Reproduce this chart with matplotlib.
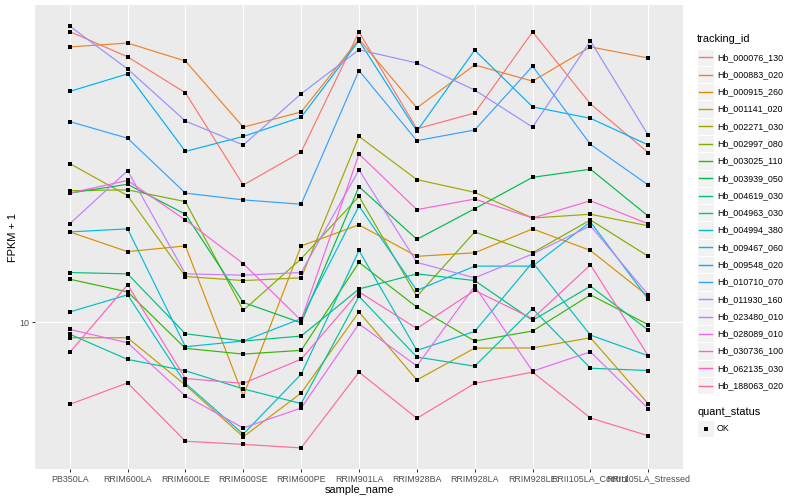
"""
FPKM 表达量折线图 (ggplot 风格复刻)
"""

import matplotlib
matplotlib.use("Agg")
import matplotlib.pyplot as plt
from matplotlib.lines import Line2D
from matplotlib.patches import Rectangle
import numpy as np

plt.rcParams['font.family'] = ['Liberation Sans', 'DejaVu Sans']

# 样本名
samples = ['PB350LA', 'RRIM600LA', 'RRIM600LE', 'RRIM600SE', 'RRIM600PE',
           'RRIM901LA', 'RRIM928BA', 'RRIM928LA', 'RRIM928LE',
           'RRII105LA_Control', 'RRII105LA_Stressed']

# 各基因的 FPKM + 1
hb_000076_130 = [53.2, 46.0, 37.4, 22.0, 26.6, 53.1, 30.4, 33.3, 53.1, 35.1, 26.5]
hb_000883_020 = [48.7, 49.8, 44.9, 30.7, 33.5, 50.9, 34.3, 43.9, 40.0, 48.7, 45.7]
hb_000915_260 = [16.8, 15.0, 15.5, 6.54, 15.5, 17.5, 14.6, 14.9, 17.1, 15.1, 11.6]
hb_001141_020 = [9.14, 9.14, 6.96, 5.17, 6.65, 10.6, 7.17, 8.61, 8.62, 9.14, 6.25]
hb_002271_030 = [24.9, 20.7, 13.0, 12.7, 12.9, 29.1, 22.7, 21.1, 18.2, 18.6, 17.4]
hb_002997_080 = [21.3, 21.4, 20.0, 10.7, 14.4, 20.6, 11.6, 16.8, 14.9, 18.0, 14.6]
hb_003025_110 = [12.8, 11.9, 8.60, 8.32, 8.50, 14.1, 10.9, 8.97, 9.50, 11.7, 9.85]
hb_003939_050 = [21.0, 22.1, 18.6, 11.2, 9.96, 21.8, 16.1, 19.2, 23.0, 24.1, 18.4]
hb_004619_030 = [13.3, 13.2, 9.35, 8.97, 9.23, 12.1, 13.2, 12.7, 10.1, 12.3, 9.55]
hb_004963_030 = [9.33, 8.07, 7.56, 6.81, 6.26, 11.6, 8.18, 7.76, 10.8, 7.67, 7.57]
hb_004994_380 = [10.6, 11.7, 7.03, 5.25, 7.41, 15.1, 8.50, 9.48, 14.1, 9.28, 8.24]
hb_009467_060 = [16.8, 17.1, 8.68, 8.97, 10.2, 19.5, 12.0, 13.8, 13.8, 17.8, 11.4]
hb_009548_020 = [37.7, 41.7, 26.7, 29.1, 32.5, 50.5, 30.0, 47.8, 34.5, 32.3, 27.7]
hb_010710_070 = [31.7, 28.8, 21.0, 20.2, 19.7, 42.5, 28.4, 30.2, 43.6, 27.8, 22.0]
hb_011930_160 = [54.9, 42.9, 31.8, 27.7, 37.2, 47.9, 44.4, 38.0, 30.7, 50.4, 29.3]
hb_023480_010 = [17.6, 23.9, 13.2, 13.1, 13.3, 24.0, 14.1, 12.9, 14.8, 17.4, 11.7]
hb_028089_010 = [9.59, 8.88, 6.54, 5.44, 6.10, 9.90, 7.77, 12.3, 7.54, 8.43, 6.08]
hb_030736_100 = [21.0, 22.6, 18.0, 14.0, 10.1, 26.3, 19.1, 20.3, 18.2, 20.1, 17.6]
hb_062135_030 = [8.40, 12.4, 7.23, 7.03, 8.08, 11.9, 9.64, 12.0, 10.2, 13.9, 8.24]
hb_188063_020 = [6.23, 7.05, 5.04, 4.95, 4.85, 7.50, 5.75, 7.03, 7.50, 5.76, 5.20]

tracking_ids = ['Hb_000076_130', 'Hb_000883_020', 'Hb_000915_260', 'Hb_001141_020',
                'Hb_002271_030', 'Hb_002997_080', 'Hb_003025_110', 'Hb_003939_050',
                'Hb_004619_030', 'Hb_004963_030', 'Hb_004994_380', 'Hb_009467_060',
                'Hb_009548_020', 'Hb_010710_070', 'Hb_011930_160', 'Hb_023480_010',
                'Hb_028089_010', 'Hb_030736_100', 'Hb_062135_030', 'Hb_188063_020']
series = [hb_000076_130, hb_000883_020, hb_000915_260, hb_001141_020,
          hb_002271_030, hb_002997_080, hb_003025_110, hb_003939_050,
          hb_004619_030, hb_004963_030, hb_004994_380, hb_009467_060,
          hb_009548_020, hb_010710_070, hb_011930_160, hb_023480_010,
          hb_028089_010, hb_030736_100, hb_062135_030, hb_188063_020]

# ggplot2 默认色相调色板 (20 色)
colors = ['#F8766D', '#EA8331', '#D89000', '#C09B00', '#A3A500', '#7CAE00',
          '#39B600', '#00BB4E', '#00BF7D', '#00C1A3', '#00BFC4', '#00BAE0',
          '#00B0F6', '#35A2FF', '#9590FF', '#C77CFF', '#E76BF3', '#FA62DB',
          '#FF62BC', '#FF6C91']

W, H = 800, 500
fig = plt.figure(figsize=(8, 5), dpi=100)
ax = fig.add_axes([35 / W, 31 / H, 648 / W, 464 / H])
ax.set_facecolor('#EBEBEB')
for s in ax.spines.values():
    s.set_visible(False)

x = np.arange(len(samples))
for vals, col in zip(series, colors):
    ax.plot(x, vals, color=col, lw=0.85, zorder=2)
for vals in series:
    ax.plot(x, vals, ls='none', marker='s', ms=2.9, mew=0, color='black', zorder=3)

ax.set_yscale('log')
lo = np.log10(min(min(v) for v in series))
hi = np.log10(max(max(v) for v in series))
pad = (hi - lo) * 0.05
ax.set_ylim(10 ** (lo - pad), 10 ** (hi + pad))
ax.set_xlim(-0.6, len(samples) - 0.4)

ax.set_yticks([10])
ax.set_yticklabels(['10'])
ax.yaxis.set_minor_locator(matplotlib.ticker.NullLocator())
ax.set_xticks(x)
ax.set_xticklabels(samples)
ax.tick_params(axis='both', length=2.0, width=0.75, color='#333333',
               labelcolor='#4D4D4D', labelsize=6.4, pad=2)
ax.grid(True, color='white', lw=0.8)
ax.set_axisbelow(True)

fig.text(13 / W, 1 - 237 / H, 'FPKM + 1', rotation=90, ha='center', va='center',
         fontsize=7.9)
fig.text(359 / W, 1 - 490 / H, 'sample_name', ha='center', va='center', fontsize=7.9)

# 图例
def fx(px):
    return px / W

def fy(py):
    return 1 - py / H

key_h = 17.28
fig.text(fx(697), fy(39), 'tracking_id', ha='left', va='center', fontsize=7.9)
for i, (tid, col) in enumerate(zip(tracking_ids, colors)):
    cy = 57.3 + key_h * i
    fig.add_artist(Rectangle((fx(697), fy(cy + key_h / 2)), key_h / W, key_h / H,
                             facecolor='#F2F2F2', edgecolor='white', lw=0.8, zorder=1))
    fig.add_artist(Line2D([fx(699), fx(712)], [fy(cy), fy(cy)], color=col, lw=1.0,
                          zorder=3))
    fig.text(fx(717), fy(cy), tid, ha='left', va='center', fontsize=6.4)

fig.text(fx(697), fy(412), 'quant_status', ha='left', va='center', fontsize=7.9)
cy = 428.5
fig.add_artist(Rectangle((fx(697), fy(cy + key_h / 2)), key_h / W, key_h / H,
                         facecolor='#F2F2F2', edgecolor='white', lw=0.8, zorder=1))
fig.add_artist(Line2D([fx(705.6)], [fy(cy)], ls='none', marker='s', ms=2.9, mew=0,
                      color='black', zorder=3))
fig.text(fx(717), fy(cy), 'OK', ha='left', va='center', fontsize=6.4)

plt.savefig('out.png', dpi=100)
